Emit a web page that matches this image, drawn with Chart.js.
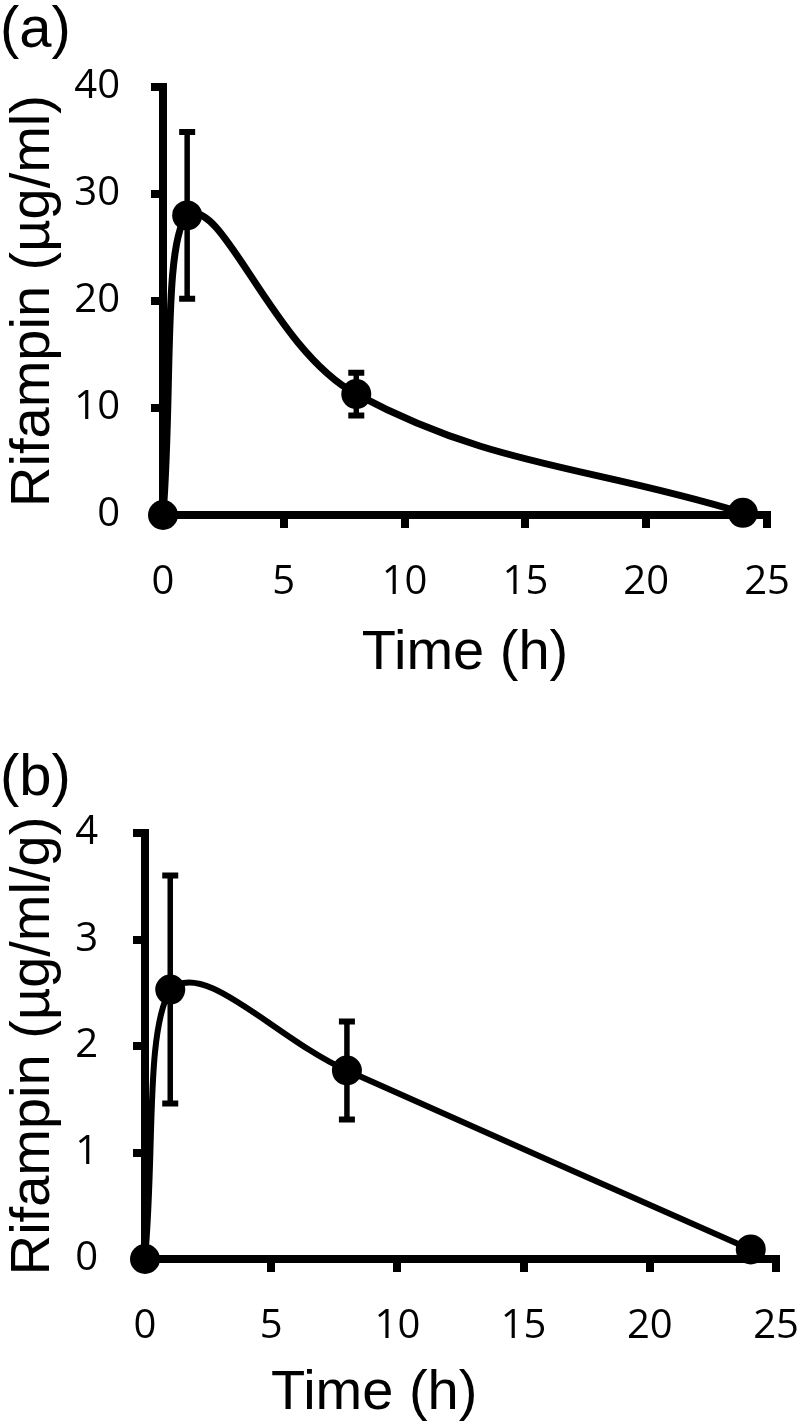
<!DOCTYPE html>
<html>
<head>
<meta charset="utf-8">
<script src="https://cdn.jsdelivr.net/npm/chart.js@4/dist/chart.umd.min.js"></script>
<style>
  body { margin: 0; background: #fff; }
  #wrap { position: relative; width: 800px; height: 1422px; overflow: hidden; }
  canvas { position: absolute; left: 0; }
  .label {
    position: absolute;
    font-family: "Liberation Sans", Arial, sans-serif;
    line-height: 1; color: #000; white-space: nowrap;
  }
</style>
</head>
<body>
<div id="wrap">
  <canvas id="plasma" width="800" height="700" style="top:0"></canvas>
  <canvas id="tissue" width="800" height="726" style="top:700px"></canvas>
  <div class="label" style="left:0; top:-2px; font-size:58px">(a)</div>
  <div class="label" style="left:0; top:746px; font-size:58px">(b)</div>
  <!-- panel (b) x title sits left of the axis centre in the original -->
  <div class="label" style="left:271px; top:1362px; font-size:56px">Time (h)</div>
</div>
<script>
// sampling times (h)
const times = [0, 1, 8, 24];

// (a) plasma rifampin, µg/ml
const plasmaMean = [0, 28, 11.3, 0.2];
const plasmaSd = [0, 7.8, 2.0, 0];

// (b) tissue rifampin, µg/ml/g
const tissueMean = [0, 2.53, 1.77, 0.09];
const tissueSd = [0, 1.07, 0.46, 0];

const xTicks = [0, 5, 10, 15, 20, 25];
const plasmaYTicks = [0, 10, 20, 30, 40];
const tissueYTicks = [0, 1, 2, 3, 4];

const tickFont = { family: '"Open Sans", "Noto Sans", sans-serif', size: 40 };
const titleFont = { family: '"Liberation Sans", Arial, sans-serif', size: 56 };

// vertical error bars with caps, placed through the chart's scales
const errorBars = {
  id: 'errorBars',
  afterDatasetsDraw(chart, args, opts) {
    const { ctx, scales: { x, y } } = chart;
    const pts = chart.data.datasets[0].data;
    ctx.save();
    ctx.strokeStyle = '#000';
    pts.forEach((p, i) => {
      const e = opts.sd[i];
      if (!e) return;
      const px = x.getPixelForValue(p.x);
      const top = y.getPixelForValue(p.y + e);
      const bot = y.getPixelForValue(p.y - e);
      ctx.lineWidth = 5.5;
      ctx.beginPath();
      ctx.moveTo(px, top);
      ctx.lineTo(px, bot);
      ctx.stroke();
      ctx.lineWidth = 6;
      ctx.beginPath();
      ctx.moveTo(px - 8, top); ctx.lineTo(px + 8, top);
      ctx.moveTo(px - 8, bot); ctx.lineTo(px + 8, bot);
      ctx.stroke();
    });
    ctx.restore();
  }
};

function makeChart(id, mean, sd, yTicks, yTitle, box) {
  return new Chart(document.getElementById(id), {
    type: 'line',
    data: {
      datasets: [{
        data: times.map((t, i) => ({ x: t, y: mean[i] })),
        borderColor: '#000',
        borderWidth: box.lw,
        backgroundColor: '#000',
        pointRadius: 15,
        pointBorderWidth: 0,
        pointBackgroundColor: '#000',
        tension: 0.4,
        fill: false,
        clip: false
      }]
    },
    options: {
      responsive: false,
      animation: false,
      events: [],
      layout: { padding: { left: 0, top: box.top, right: box.right, bottom: 0 } },
      plugins: {
        legend: { display: false },
        tooltip: { enabled: false },
        errorBars: { sd: sd }
      },
      scales: {
        x: {
          type: 'linear',
          min: xTicks[0],
          max: xTicks[xTicks.length - 1],
          afterBuildTicks: s => { s.ticks = xTicks.map(v => ({ value: v })); },
          afterFit: s => { s.height = box.xh; s.paddingLeft = 0; s.paddingRight = 0; },
          grid: { drawOnChartArea: false, drawTicks: true, tickLength: 13, lineWidth: 8, color: '#000' },
          border: { display: true, width: 8, color: '#000' },
          ticks: { padding: box.xtp, color: '#000', font: tickFont, maxRotation: 0 },
          title: { display: box.xTitleOnAxis, text: 'Time (h)', color: '#000', font: titleFont, padding: { top: 0, bottom: 13 } }
        },
        y: {
          min: yTicks[0],
          max: yTicks[yTicks.length - 1],
          afterBuildTicks: s => { s.ticks = yTicks.map(v => ({ value: v })); },
          afterFit: s => { s.width = box.yw; s.paddingTop = 0; s.paddingBottom = 0; },
          grid: { drawOnChartArea: false, drawTicks: true, tickLength: 12, lineWidth: 8, color: '#000' },
          border: { display: true, width: 8, color: '#000' },
          ticks: { padding: box.ytp, color: '#000', font: tickFont },
          title: { display: true, text: yTitle, color: '#000', font: titleFont, padding: { top: 0, bottom: 0 } }
        }
      }
    },
    plugins: [errorBars]
  });
}

makeChart('plasma', plasmaMean, plasmaSd, plasmaYTicks, 'Rifampin (µg/ml)',
  { top: 87, right: 33, xh: 185, yw: 163, xtp: 31, ytp: 31, lw: 7, xTitleOnAxis: true });
makeChart('tissue', tissueMean, tissueSd, tissueYTicks, 'Rifampin (µg/ml/g)',
  { top: 133, right: 24, xh: 167, yw: 145, xtp: 31, ytp: 35, lw: 6, xTitleOnAxis: false });
</script>
</body>
</html>
